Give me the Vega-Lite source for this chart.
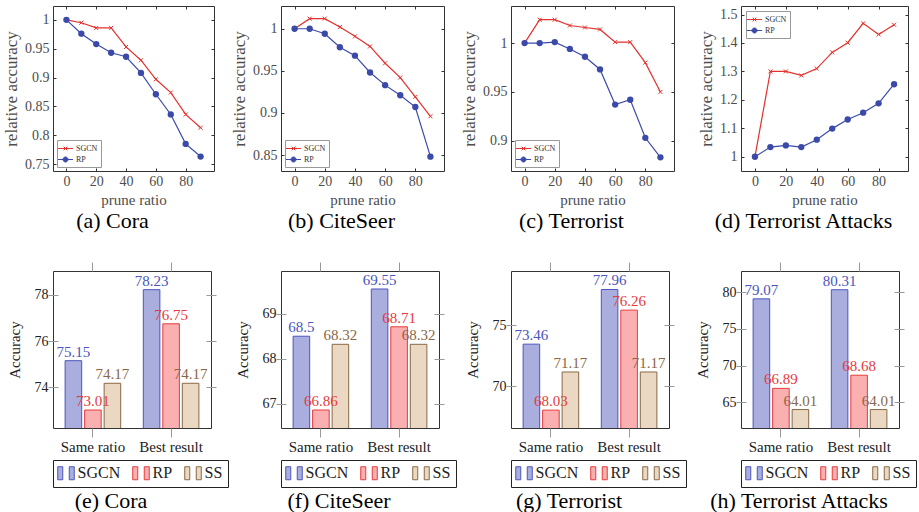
{
"$schema": "https://vega.github.io/schema/vega-lite/v6.json",
"padding": {"left": 2, "top": 5, "right": 2, "bottom": 0},
"background": "white",
"datasets": {
"cora": [
{"series":"SGCN","ratio":0,"acc":1.0},{"series":"SGCN","ratio":10,"acc":0.995},{"series":"SGCN","ratio":20,"acc":0.986},{"series":"SGCN","ratio":30,"acc":0.986},{"series":"SGCN","ratio":40,"acc":0.953},{"series":"SGCN","ratio":50,"acc":0.930},{"series":"SGCN","ratio":60,"acc":0.897},{"series":"SGCN","ratio":70,"acc":0.874},{"series":"SGCN","ratio":80,"acc":0.836},{"series":"SGCN","ratio":90,"acc":0.813},
{"series":"RP","ratio":0,"acc":1.0},{"series":"RP","ratio":10,"acc":0.976},{"series":"RP","ratio":20,"acc":0.958},{"series":"RP","ratio":30,"acc":0.943},{"series":"RP","ratio":40,"acc":0.936},{"series":"RP","ratio":50,"acc":0.908},{"series":"RP","ratio":60,"acc":0.871},{"series":"RP","ratio":70,"acc":0.836},{"series":"RP","ratio":80,"acc":0.785},{"series":"RP","ratio":90,"acc":0.763}
],
"citeseer": [
{"series":"SGCN","ratio":0,"acc":1.0},{"series":"SGCN","ratio":10,"acc":1.012},{"series":"SGCN","ratio":20,"acc":1.012},{"series":"SGCN","ratio":30,"acc":1.002},{"series":"SGCN","ratio":40,"acc":0.991},{"series":"SGCN","ratio":50,"acc":0.979},{"series":"SGCN","ratio":60,"acc":0.959},{"series":"SGCN","ratio":70,"acc":0.942},{"series":"SGCN","ratio":80,"acc":0.919},{"series":"SGCN","ratio":90,"acc":0.896},
{"series":"RP","ratio":0,"acc":1.0},{"series":"RP","ratio":10,"acc":1.0},{"series":"RP","ratio":20,"acc":0.994},{"series":"RP","ratio":30,"acc":0.978},{"series":"RP","ratio":40,"acc":0.968},{"series":"RP","ratio":50,"acc":0.948},{"series":"RP","ratio":60,"acc":0.933},{"series":"RP","ratio":70,"acc":0.921},{"series":"RP","ratio":80,"acc":0.907},{"series":"RP","ratio":90,"acc":0.848}
],
"terrorist": [
{"series":"SGCN","ratio":0,"acc":1.0},{"series":"SGCN","ratio":10,"acc":1.024},{"series":"SGCN","ratio":20,"acc":1.024},{"series":"SGCN","ratio":30,"acc":1.018},{"series":"SGCN","ratio":40,"acc":1.016},{"series":"SGCN","ratio":50,"acc":1.014},{"series":"SGCN","ratio":60,"acc":1.001},{"series":"SGCN","ratio":70,"acc":1.001},{"series":"SGCN","ratio":80,"acc":0.980},{"series":"SGCN","ratio":90,"acc":0.950},
{"series":"RP","ratio":0,"acc":1.0},{"series":"RP","ratio":10,"acc":1.0},{"series":"RP","ratio":20,"acc":1.001},{"series":"RP","ratio":30,"acc":0.994},{"series":"RP","ratio":40,"acc":0.986},{"series":"RP","ratio":50,"acc":0.973},{"series":"RP","ratio":60,"acc":0.937},{"series":"RP","ratio":70,"acc":0.942},{"series":"RP","ratio":80,"acc":0.903},{"series":"RP","ratio":90,"acc":0.883}
],
"ta": [
{"series":"SGCN","ratio":0,"acc":1.0},{"series":"SGCN","ratio":10,"acc":1.30},{"series":"SGCN","ratio":20,"acc":1.30},{"series":"SGCN","ratio":30,"acc":1.286},{"series":"SGCN","ratio":40,"acc":1.31},{"series":"SGCN","ratio":50,"acc":1.367},{"series":"SGCN","ratio":60,"acc":1.401},{"series":"SGCN","ratio":70,"acc":1.469},{"series":"SGCN","ratio":80,"acc":1.43},{"series":"SGCN","ratio":90,"acc":1.464},
{"series":"RP","ratio":0,"acc":1.0},{"series":"RP","ratio":10,"acc":1.034},{"series":"RP","ratio":20,"acc":1.04},{"series":"RP","ratio":30,"acc":1.034},{"series":"RP","ratio":40,"acc":1.06},{"series":"RP","ratio":50,"acc":1.099},{"series":"RP","ratio":60,"acc":1.131},{"series":"RP","ratio":70,"acc":1.155},{"series":"RP","ratio":80,"acc":1.188},{"series":"RP","ratio":90,"acc":1.255}
],
"bcora": [
{"cat":"Same ratio","series":"SGCN","acc":75.15},{"cat":"Same ratio","series":"RP","acc":73.01},{"cat":"Same ratio","series":"SS","acc":74.17},
{"cat":"Best result","series":"SGCN","acc":78.23},{"cat":"Best result","series":"RP","acc":76.75},{"cat":"Best result","series":"SS","acc":74.17}
],
"bciteseer": [
{"cat":"Same ratio","series":"SGCN","acc":68.5},{"cat":"Same ratio","series":"RP","acc":66.86},{"cat":"Same ratio","series":"SS","acc":68.32},
{"cat":"Best result","series":"SGCN","acc":69.55},{"cat":"Best result","series":"RP","acc":68.71},{"cat":"Best result","series":"SS","acc":68.32}
],
"bterrorist": [
{"cat":"Same ratio","series":"SGCN","acc":73.46},{"cat":"Same ratio","series":"RP","acc":68.03},{"cat":"Same ratio","series":"SS","acc":71.17},
{"cat":"Best result","series":"SGCN","acc":77.96},{"cat":"Best result","series":"RP","acc":76.26},{"cat":"Best result","series":"SS","acc":71.17}
],
"bta": [
{"cat":"Same ratio","series":"SGCN","acc":79.07},{"cat":"Same ratio","series":"RP","acc":66.89},{"cat":"Same ratio","series":"SS","acc":64.01},
{"cat":"Best result","series":"SGCN","acc":80.31},{"cat":"Best result","series":"RP","acc":68.68},{"cat":"Best result","series":"SS","acc":64.01}
]
},
"columns": 4,
"align": "each",
"bounds": "flush",
"spacing": {"row": 100, "column": 67},
"resolve": {
"scale": {"x": "independent", "y": "independent", "xOffset": "independent", "color": "independent", "fill": "independent", "stroke": "independent"},
"axis": {"x": "independent", "y": "independent"},
"legend": {"color": "independent", "fill": "independent", "stroke": "independent"}
},
"concat": [
{
"width": 161, "height": 165,
"title": {"text": "(a) Cora", "offset": 4, "dx": -21},
"data": {"name": "cora"},
"layer": [
{"mark": {"type": "line", "strokeWidth": 1.2},
"encoding": {
"x": {"field": "ratio", "type": "quantitative", "scale": {"domain": [-9, 99], "nice": false, "zero": false}, "axis": {"orient": "bottom", "values": [0,20,40,60,80], "title": "prune ratio", "offset": -3, "tickSize": 3, "tickColor": "#333", "labelFontSize": 14, "labelColor": "#4d4d4d", "labelPadding": 3, "titleFontSize": 15, "titleColor": "#4d4d4d", "titlePadding": 4}},
"y": {"field": "acc", "type": "quantitative", "scale": {"domain": [0.738, 1.024], "nice": false, "zero": false}, "axis": {"orient": "left", "values": [0.75,0.8,0.85,0.9,0.95,1], "format": "~g", "title": "relative accuracy", "offset": -3, "tickSize": 3, "tickColor": "#333", "labelFontSize": 14, "labelColor": "#4d4d4d", "labelPadding": 4, "titleFontSize": 17, "titleColor": "#4d4d4d", "titlePadding": 4}},
"color": {"field": "series", "type": "nominal", "scale": {"domain": ["SGCN","RP"], "range": ["#e3312d","#3b4aa9"]},
"legend": {"title": null, "orient": "bottom-left", "offset": 4, "padding": 3, "strokeColor": "#999", "fillColor": "white", "labelFont": "Liberation Serif", "labelFontSize": 8, "labelColor": "#333", "symbolSize": 100, "symbolStrokeWidth": 1, "rowPadding": 1, "labelOffset": 5,
"encode": {"symbols": {"update": {"shape": {"signal": "datum.value === 'SGCN' ? 'M-1.5,0H1.5M-0.36,-0.36L0.36,0.36M-0.36,0.36L0.36,-0.36' : 'M-1.5,0H1.5M0.5,0A0.5,0.5,0,1,1,-0.5,0A0.5,0.5,0,1,1,0.5,0Z'"}, "fill": {"signal": "datum.value === 'RP' ? '#3b4aa9' : 'transparent'"}}}}}}
}},
{"transform": [{"filter": "datum.series == 'SGCN'"}],
"mark": {"type": "point", "shape": "M-1,-1L1,1M-1,1L1,-1", "size": 16, "strokeWidth": 1, "color": "#e3312d", "opacity": 1},
"encoding": {
"x": {"field": "ratio", "type": "quantitative", "scale": {"domain": [-9, 99], "nice": false, "zero": false}, "axis": {"orient": "top", "values": [0,20,40,60,80], "labels": false, "title": null, "offset": -3, "tickSize": 3, "tickColor": "#333"}},
"y": {"field": "acc", "type": "quantitative", "scale": {"domain": [0.738, 1.024], "nice": false, "zero": false}, "axis": {"orient": "right", "values": [0.75,0.8,0.85,0.9,0.95,1], "labels": false, "title": null, "offset": -3, "tickSize": 3, "tickColor": "#333"}}
}},
{"transform": [{"filter": "datum.series == 'RP'"}],
"mark": {"type": "circle", "size": 40, "color": "#3b4aa9", "opacity": 1},
"encoding": {
"x": {"field": "ratio", "type": "quantitative", "scale": {"domain": [-9, 99], "nice": false, "zero": false}, "axis": null},
"y": {"field": "acc", "type": "quantitative", "scale": {"domain": [0.738, 1.024], "nice": false, "zero": false}, "axis": null}
}}
]
},
{
"width": 163, "height": 165,
"title": {"text": "(b) CiteSeer", "offset": 4, "dx": -21},
"data": {"name": "citeseer"},
"layer": [
{"mark": {"type": "line", "strokeWidth": 1.2},
"encoding": {
"x": {"field": "ratio", "type": "quantitative", "scale": {"domain": [-9, 99], "nice": false, "zero": false}, "axis": {"orient": "bottom", "values": [0,20,40,60,80], "title": "prune ratio", "offset": -3, "tickSize": 3, "tickColor": "#333", "labelFontSize": 14, "labelColor": "#4d4d4d", "labelPadding": 3, "titleFontSize": 15, "titleColor": "#4d4d4d", "titlePadding": 4}},
"y": {"field": "acc", "type": "quantitative", "scale": {"domain": [0.831, 1.027], "nice": false, "zero": false}, "axis": {"orient": "left", "values": [0.85,0.9,0.95,1], "format": "~g", "title": "relative accuracy", "offset": -3, "tickSize": 3, "tickColor": "#333", "labelFontSize": 14, "labelColor": "#4d4d4d", "labelPadding": 4, "titleFontSize": 17, "titleColor": "#4d4d4d", "titlePadding": 4}},
"color": {"field": "series", "type": "nominal", "scale": {"domain": ["SGCN","RP"], "range": ["#e3312d","#3b4aa9"]},
"legend": {"title": null, "orient": "bottom-left", "offset": 4, "padding": 3, "strokeColor": "#999", "fillColor": "white", "labelFont": "Liberation Serif", "labelFontSize": 8, "labelColor": "#333", "symbolSize": 100, "symbolStrokeWidth": 1, "rowPadding": 1, "labelOffset": 5,
"encode": {"symbols": {"update": {"shape": {"signal": "datum.value === 'SGCN' ? 'M-1.5,0H1.5M-0.36,-0.36L0.36,0.36M-0.36,0.36L0.36,-0.36' : 'M-1.5,0H1.5M0.5,0A0.5,0.5,0,1,1,-0.5,0A0.5,0.5,0,1,1,0.5,0Z'"}, "fill": {"signal": "datum.value === 'RP' ? '#3b4aa9' : 'transparent'"}}}}}}
}},
{"transform": [{"filter": "datum.series == 'SGCN'"}],
"mark": {"type": "point", "shape": "M-1,-1L1,1M-1,1L1,-1", "size": 16, "strokeWidth": 1, "color": "#e3312d", "opacity": 1},
"encoding": {
"x": {"field": "ratio", "type": "quantitative", "scale": {"domain": [-9, 99], "nice": false, "zero": false}, "axis": {"orient": "top", "values": [0,20,40,60,80], "labels": false, "title": null, "offset": -3, "tickSize": 3, "tickColor": "#333"}},
"y": {"field": "acc", "type": "quantitative", "scale": {"domain": [0.831, 1.027], "nice": false, "zero": false}, "axis": {"orient": "right", "values": [0.85,0.9,0.95,1], "labels": false, "title": null, "offset": -3, "tickSize": 3, "tickColor": "#333"}}
}},
{"transform": [{"filter": "datum.series == 'RP'"}],
"mark": {"type": "circle", "size": 40, "color": "#3b4aa9", "opacity": 1},
"encoding": {
"x": {"field": "ratio", "type": "quantitative", "scale": {"domain": [-9, 99], "nice": false, "zero": false}, "axis": null},
"y": {"field": "acc", "type": "quantitative", "scale": {"domain": [0.831, 1.027], "nice": false, "zero": false}, "axis": null}
}}
]
},
{
"width": 163, "height": 165,
"title": {"text": "(c) Terrorist", "offset": 4, "dx": -21},
"data": {"name": "terrorist"},
"layer": [
{"mark": {"type": "line", "strokeWidth": 1.2},
"encoding": {
"x": {"field": "ratio", "type": "quantitative", "scale": {"domain": [-9, 99], "nice": false, "zero": false}, "axis": {"orient": "bottom", "values": [0,20,40,60,80], "title": "prune ratio", "offset": -3, "tickSize": 3, "tickColor": "#333", "labelFontSize": 14, "labelColor": "#4d4d4d", "labelPadding": 3, "titleFontSize": 15, "titleColor": "#4d4d4d", "titlePadding": 4}},
"y": {"field": "acc", "type": "quantitative", "scale": {"domain": [0.869, 1.038], "nice": false, "zero": false}, "axis": {"orient": "left", "values": [0.9,0.95,1], "format": "~g", "title": "relative accuracy", "offset": -3, "tickSize": 3, "tickColor": "#333", "labelFontSize": 14, "labelColor": "#4d4d4d", "labelPadding": 4, "titleFontSize": 17, "titleColor": "#4d4d4d", "titlePadding": 4}},
"color": {"field": "series", "type": "nominal", "scale": {"domain": ["SGCN","RP"], "range": ["#e3312d","#3b4aa9"]},
"legend": {"title": null, "orient": "bottom-left", "offset": 4, "padding": 3, "strokeColor": "#999", "fillColor": "white", "labelFont": "Liberation Serif", "labelFontSize": 8, "labelColor": "#333", "symbolSize": 100, "symbolStrokeWidth": 1, "rowPadding": 1, "labelOffset": 5,
"encode": {"symbols": {"update": {"shape": {"signal": "datum.value === 'SGCN' ? 'M-1.5,0H1.5M-0.36,-0.36L0.36,0.36M-0.36,0.36L0.36,-0.36' : 'M-1.5,0H1.5M0.5,0A0.5,0.5,0,1,1,-0.5,0A0.5,0.5,0,1,1,0.5,0Z'"}, "fill": {"signal": "datum.value === 'RP' ? '#3b4aa9' : 'transparent'"}}}}}}
}},
{"transform": [{"filter": "datum.series == 'SGCN'"}],
"mark": {"type": "point", "shape": "M-1,-1L1,1M-1,1L1,-1", "size": 16, "strokeWidth": 1, "color": "#e3312d", "opacity": 1},
"encoding": {
"x": {"field": "ratio", "type": "quantitative", "scale": {"domain": [-9, 99], "nice": false, "zero": false}, "axis": {"orient": "top", "values": [0,20,40,60,80], "labels": false, "title": null, "offset": -3, "tickSize": 3, "tickColor": "#333"}},
"y": {"field": "acc", "type": "quantitative", "scale": {"domain": [0.869, 1.038], "nice": false, "zero": false}, "axis": {"orient": "right", "values": [0.9,0.95,1], "labels": false, "title": null, "offset": -3, "tickSize": 3, "tickColor": "#333"}}
}},
{"transform": [{"filter": "datum.series == 'RP'"}],
"mark": {"type": "circle", "size": 40, "color": "#3b4aa9", "opacity": 1},
"encoding": {
"x": {"field": "ratio", "type": "quantitative", "scale": {"domain": [-9, 99], "nice": false, "zero": false}, "axis": null},
"y": {"field": "acc", "type": "quantitative", "scale": {"domain": [0.869, 1.038], "nice": false, "zero": false}, "axis": null}
}}
]
},
{
"width": 167, "height": 165,
"title": {"text": "(d) Terrorist Attacks", "offset": 4, "dx": -21},
"data": {"name": "ta"},
"layer": [
{"mark": {"type": "line", "strokeWidth": 1.2},
"encoding": {
"x": {"field": "ratio", "type": "quantitative", "scale": {"domain": [-9, 99], "nice": false, "zero": false}, "axis": {"orient": "bottom", "values": [0,20,40,60,80], "title": "prune ratio", "offset": -3, "tickSize": 3, "tickColor": "#333", "labelFontSize": 14, "labelColor": "#4d4d4d", "labelPadding": 3, "titleFontSize": 15, "titleColor": "#4d4d4d", "titlePadding": 4}},
"y": {"field": "acc", "type": "quantitative", "scale": {"domain": [0.95, 1.53], "nice": false, "zero": false}, "axis": {"orient": "left", "values": [1,1.1,1.2,1.3,1.4,1.5], "format": "~g", "title": "relative accuracy", "offset": -3, "tickSize": 3, "tickColor": "#333", "labelFontSize": 14, "labelColor": "#4d4d4d", "labelPadding": 4, "titleFontSize": 17, "titleColor": "#4d4d4d", "titlePadding": 4}},
"color": {"field": "series", "type": "nominal", "scale": {"domain": ["SGCN","RP"], "range": ["#e3312d","#3b4aa9"]},
"legend": {"title": null, "orient": "top-left", "offset": 5, "padding": 3, "strokeColor": "#999", "fillColor": "white", "labelFont": "Liberation Serif", "labelFontSize": 8, "labelColor": "#333", "symbolSize": 100, "symbolStrokeWidth": 1, "rowPadding": 1, "labelOffset": 5,
"encode": {"symbols": {"update": {"shape": {"signal": "datum.value === 'SGCN' ? 'M-1.5,0H1.5M-0.36,-0.36L0.36,0.36M-0.36,0.36L0.36,-0.36' : 'M-1.5,0H1.5M0.5,0A0.5,0.5,0,1,1,-0.5,0A0.5,0.5,0,1,1,0.5,0Z'"}, "fill": {"signal": "datum.value === 'RP' ? '#3b4aa9' : 'transparent'"}}}}}}
}},
{"transform": [{"filter": "datum.series == 'SGCN'"}],
"mark": {"type": "point", "shape": "M-1,-1L1,1M-1,1L1,-1", "size": 16, "strokeWidth": 1, "color": "#e3312d", "opacity": 1},
"encoding": {
"x": {"field": "ratio", "type": "quantitative", "scale": {"domain": [-9, 99], "nice": false, "zero": false}, "axis": {"orient": "top", "values": [0,20,40,60,80], "labels": false, "title": null, "offset": -3, "tickSize": 3, "tickColor": "#333"}},
"y": {"field": "acc", "type": "quantitative", "scale": {"domain": [0.95, 1.53], "nice": false, "zero": false}, "axis": {"orient": "right", "values": [1,1.1,1.2,1.3,1.4,1.5], "labels": false, "title": null, "offset": -3, "tickSize": 3, "tickColor": "#333"}}
}},
{"transform": [{"filter": "datum.series == 'RP'"}],
"mark": {"type": "circle", "size": 40, "color": "#3b4aa9", "opacity": 1},
"encoding": {
"x": {"field": "ratio", "type": "quantitative", "scale": {"domain": [-9, 99], "nice": false, "zero": false}, "axis": null},
"y": {"field": "acc", "type": "quantitative", "scale": {"domain": [0.95, 1.53], "nice": false, "zero": false}, "axis": null}
}}
]
},
{
"width": 158, "height": 157,
"title": {"text": "(e) Cora", "offset": 3, "dx": -21},
"data": {"name": "bcora"},
"layer": [
{"mark": {"type": "bar", "clip": true, "strokeWidth": 1},
"encoding": {
"x": {"field": "cat", "type": "nominal", "sort": ["Same ratio","Best result"], "scale": {"paddingInner": 0.289, "paddingOuter": 0.155}, "axis": {"orient": "bottom", "title": null, "labelAngle": 0, "tickSize": 9, "tickColor": "#999", "labelFontSize": 15, "labelColor": "#222", "labelPadding": 2}},
"xOffset": {"field": "series", "type": "nominal", "sort": ["SGCN","RP","SS"], "scale": {"paddingInner": 0.15, "paddingOuter": 0}},
"y": {"field": "acc", "type": "quantitative", "scale": {"domain": [72.23, 79.04], "nice": false, "zero": false}, "axis": {"orient": "left", "values": [74,76,78], "title": "Accuracy", "offset": -5, "tickSize": 10, "tickColor": "#999", "labelPadding": 0, "labelFontSize": 14, "labelColor": "#222", "titleFontSize": 15, "titleColor": "#222", "titlePadding": 12}},
"fill": {"field": "series", "type": "nominal", "scale": {"domain": ["SGCN","RP","SS"], "range": ["#aaaedf","#fab0b0","#ead8c2"]},
"legend": {"title": null, "orient": "bottom", "direction": "horizontal", "offset": 6, "padding": 5, "strokeColor": "#222", "fillColor": "white", "symbolType": "M-1.27,-1H-0.5V1H-1.27ZM0.5,-1H1.27V1H0.5Z", "symbolSize": 169, "symbolStrokeWidth": 1, "symbolOpacity": 1, "labelFont": "Liberation Serif", "labelFontSize": 16, "labelColor": "#222", "labelOffset": 3.5, "columnPadding": 9}},
"stroke": {"field": "series", "type": "nominal", "scale": {"domain": ["SGCN","RP","SS"], "range": ["#4b55bd","#e63b3b","#8a6846"]},
"legend": {"title": null, "orient": "bottom", "direction": "horizontal", "offset": 6, "padding": 5, "strokeColor": "#222", "fillColor": "white", "symbolType": "M-1.27,-1H-0.5V1H-1.27ZM0.5,-1H1.27V1H0.5Z", "symbolSize": 169, "symbolStrokeWidth": 1, "symbolOpacity": 1, "labelFont": "Liberation Serif", "labelFontSize": 16, "labelColor": "#222", "labelOffset": 3.5, "columnPadding": 9}}
}},
{"mark": {"type": "text", "baseline": "alphabetic", "dy": -4, "fontSize": 15},
"encoding": {
"x": {"field": "cat", "type": "nominal", "sort": ["Same ratio","Best result"], "scale": {"paddingInner": 0.289, "paddingOuter": 0.155}, "axis": {"orient": "top", "labels": false, "title": null, "tickSize": 9, "tickColor": "#999"}},
"xOffset": {"field": "series", "type": "nominal", "sort": ["SGCN","RP","SS"], "scale": {"paddingInner": 0.15, "paddingOuter": 0}},
"y": {"field": "acc", "type": "quantitative", "scale": {"domain": [72.23, 79.04], "nice": false, "zero": false}, "axis": {"orient": "right", "values": [74,76,78], "labels": false, "title": null, "offset": -5, "tickSize": 10, "tickColor": "#999"}},
"text": {"field": "acc", "type": "nominal"},
"color": {"field": "series", "type": "nominal", "scale": {"domain": ["SGCN","RP","SS"], "range": ["#4b55bd","#e63b3b","#8a6846"]}, "legend": null}
}}
]
},
{
"width": 158, "height": 157,
"title": {"text": "(f) CiteSeer", "offset": 3, "dx": -21},
"data": {"name": "bciteseer"},
"layer": [
{"mark": {"type": "bar", "clip": true, "strokeWidth": 1},
"encoding": {
"x": {"field": "cat", "type": "nominal", "sort": ["Same ratio","Best result"], "scale": {"paddingInner": 0.289, "paddingOuter": 0.155}, "axis": {"orient": "bottom", "title": null, "labelAngle": 0, "tickSize": 9, "tickColor": "#999", "labelFontSize": 15, "labelColor": "#222", "labelPadding": 2}},
"xOffset": {"field": "series", "type": "nominal", "sort": ["SGCN","RP","SS"], "scale": {"paddingInner": 0.15, "paddingOuter": 0}},
"y": {"field": "acc", "type": "quantitative", "scale": {"domain": [66.46, 69.95], "nice": false, "zero": false}, "axis": {"orient": "left", "values": [67,68,69], "title": "Accuracy", "offset": -5, "tickSize": 10, "tickColor": "#999", "labelPadding": 0, "labelFontSize": 14, "labelColor": "#222", "titleFontSize": 15, "titleColor": "#222", "titlePadding": 12}},
"fill": {"field": "series", "type": "nominal", "scale": {"domain": ["SGCN","RP","SS"], "range": ["#aaaedf","#fab0b0","#ead8c2"]},
"legend": {"title": null, "orient": "bottom", "direction": "horizontal", "offset": 6, "padding": 5, "strokeColor": "#222", "fillColor": "white", "symbolType": "M-1.27,-1H-0.5V1H-1.27ZM0.5,-1H1.27V1H0.5Z", "symbolSize": 169, "symbolStrokeWidth": 1, "symbolOpacity": 1, "labelFont": "Liberation Serif", "labelFontSize": 16, "labelColor": "#222", "labelOffset": 3.5, "columnPadding": 9}},
"stroke": {"field": "series", "type": "nominal", "scale": {"domain": ["SGCN","RP","SS"], "range": ["#4b55bd","#e63b3b","#8a6846"]},
"legend": {"title": null, "orient": "bottom", "direction": "horizontal", "offset": 6, "padding": 5, "strokeColor": "#222", "fillColor": "white", "symbolType": "M-1.27,-1H-0.5V1H-1.27ZM0.5,-1H1.27V1H0.5Z", "symbolSize": 169, "symbolStrokeWidth": 1, "symbolOpacity": 1, "labelFont": "Liberation Serif", "labelFontSize": 16, "labelColor": "#222", "labelOffset": 3.5, "columnPadding": 9}}
}},
{"mark": {"type": "text", "baseline": "alphabetic", "dy": -4, "fontSize": 15},
"encoding": {
"x": {"field": "cat", "type": "nominal", "sort": ["Same ratio","Best result"], "scale": {"paddingInner": 0.289, "paddingOuter": 0.155}, "axis": {"orient": "top", "labels": false, "title": null, "tickSize": 9, "tickColor": "#999"}},
"xOffset": {"field": "series", "type": "nominal", "sort": ["SGCN","RP","SS"], "scale": {"paddingInner": 0.15, "paddingOuter": 0}},
"y": {"field": "acc", "type": "quantitative", "scale": {"domain": [66.46, 69.95], "nice": false, "zero": false}, "axis": {"orient": "right", "values": [67,68,69], "labels": false, "title": null, "offset": -5, "tickSize": 10, "tickColor": "#999"}},
"text": {"field": "acc", "type": "nominal"},
"color": {"field": "series", "type": "nominal", "scale": {"domain": ["SGCN","RP","SS"], "range": ["#4b55bd","#e63b3b","#8a6846"]}, "legend": null}
}}
]
},
{
"width": 158, "height": 157,
"title": {"text": "(g) Terrorist", "offset": 3, "dx": -21},
"data": {"name": "bterrorist"},
"layer": [
{"mark": {"type": "bar", "clip": true, "strokeWidth": 1},
"encoding": {
"x": {"field": "cat", "type": "nominal", "sort": ["Same ratio","Best result"], "scale": {"paddingInner": 0.289, "paddingOuter": 0.155}, "axis": {"orient": "bottom", "title": null, "labelAngle": 0, "tickSize": 9, "tickColor": "#999", "labelFontSize": 15, "labelColor": "#222", "labelPadding": 2}},
"xOffset": {"field": "series", "type": "nominal", "sort": ["SGCN","RP","SS"], "scale": {"paddingInner": 0.15, "paddingOuter": 0}},
"y": {"field": "acc", "type": "quantitative", "scale": {"domain": [66.56, 79.48], "nice": false, "zero": false}, "axis": {"orient": "left", "values": [70,75], "title": "Accuracy", "offset": -5, "tickSize": 10, "tickColor": "#999", "labelPadding": 0, "labelFontSize": 14, "labelColor": "#222", "titleFontSize": 15, "titleColor": "#222", "titlePadding": 12}},
"fill": {"field": "series", "type": "nominal", "scale": {"domain": ["SGCN","RP","SS"], "range": ["#aaaedf","#fab0b0","#ead8c2"]},
"legend": {"title": null, "orient": "bottom", "direction": "horizontal", "offset": 6, "padding": 5, "strokeColor": "#222", "fillColor": "white", "symbolType": "M-1.27,-1H-0.5V1H-1.27ZM0.5,-1H1.27V1H0.5Z", "symbolSize": 169, "symbolStrokeWidth": 1, "symbolOpacity": 1, "labelFont": "Liberation Serif", "labelFontSize": 16, "labelColor": "#222", "labelOffset": 3.5, "columnPadding": 9}},
"stroke": {"field": "series", "type": "nominal", "scale": {"domain": ["SGCN","RP","SS"], "range": ["#4b55bd","#e63b3b","#8a6846"]},
"legend": {"title": null, "orient": "bottom", "direction": "horizontal", "offset": 6, "padding": 5, "strokeColor": "#222", "fillColor": "white", "symbolType": "M-1.27,-1H-0.5V1H-1.27ZM0.5,-1H1.27V1H0.5Z", "symbolSize": 169, "symbolStrokeWidth": 1, "symbolOpacity": 1, "labelFont": "Liberation Serif", "labelFontSize": 16, "labelColor": "#222", "labelOffset": 3.5, "columnPadding": 9}}
}},
{"mark": {"type": "text", "baseline": "alphabetic", "dy": -4, "fontSize": 15},
"encoding": {
"x": {"field": "cat", "type": "nominal", "sort": ["Same ratio","Best result"], "scale": {"paddingInner": 0.289, "paddingOuter": 0.155}, "axis": {"orient": "top", "labels": false, "title": null, "tickSize": 9, "tickColor": "#999"}},
"xOffset": {"field": "series", "type": "nominal", "sort": ["SGCN","RP","SS"], "scale": {"paddingInner": 0.15, "paddingOuter": 0}},
"y": {"field": "acc", "type": "quantitative", "scale": {"domain": [66.56, 79.48], "nice": false, "zero": false}, "axis": {"orient": "right", "values": [70,75], "labels": false, "title": null, "offset": -5, "tickSize": 10, "tickColor": "#999"}},
"text": {"field": "acc", "type": "nominal"},
"color": {"field": "series", "type": "nominal", "scale": {"domain": ["SGCN","RP","SS"], "range": ["#4b55bd","#e63b3b","#8a6846"]}, "legend": null}
}}
]
},
{
"width": 158, "height": 157,
"title": {"text": "(h) Terrorist Attacks", "offset": 3, "dx": -21},
"data": {"name": "bta"},
"layer": [
{"mark": {"type": "bar", "clip": true, "strokeWidth": 1},
"encoding": {
"x": {"field": "cat", "type": "nominal", "sort": ["Same ratio","Best result"], "scale": {"paddingInner": 0.289, "paddingOuter": 0.155}, "axis": {"orient": "bottom", "title": null, "labelAngle": 0, "tickSize": 9, "tickColor": "#999", "labelFontSize": 15, "labelColor": "#222", "labelPadding": 2}},
"xOffset": {"field": "series", "type": "nominal", "sort": ["SGCN","RP","SS"], "scale": {"paddingInner": 0.15, "paddingOuter": 0}},
"y": {"field": "acc", "type": "quantitative", "scale": {"domain": [61.5, 82.86], "nice": false, "zero": false}, "axis": {"orient": "left", "values": [65,70,75,80], "title": "Accuracy", "offset": -5, "tickSize": 10, "tickColor": "#999", "labelPadding": 0, "labelFontSize": 14, "labelColor": "#222", "titleFontSize": 15, "titleColor": "#222", "titlePadding": 12}},
"fill": {"field": "series", "type": "nominal", "scale": {"domain": ["SGCN","RP","SS"], "range": ["#aaaedf","#fab0b0","#ead8c2"]},
"legend": {"title": null, "orient": "bottom", "direction": "horizontal", "offset": 6, "padding": 5, "strokeColor": "#222", "fillColor": "white", "symbolType": "M-1.27,-1H-0.5V1H-1.27ZM0.5,-1H1.27V1H0.5Z", "symbolSize": 169, "symbolStrokeWidth": 1, "symbolOpacity": 1, "labelFont": "Liberation Serif", "labelFontSize": 16, "labelColor": "#222", "labelOffset": 3.5, "columnPadding": 9}},
"stroke": {"field": "series", "type": "nominal", "scale": {"domain": ["SGCN","RP","SS"], "range": ["#4b55bd","#e63b3b","#8a6846"]},
"legend": {"title": null, "orient": "bottom", "direction": "horizontal", "offset": 6, "padding": 5, "strokeColor": "#222", "fillColor": "white", "symbolType": "M-1.27,-1H-0.5V1H-1.27ZM0.5,-1H1.27V1H0.5Z", "symbolSize": 169, "symbolStrokeWidth": 1, "symbolOpacity": 1, "labelFont": "Liberation Serif", "labelFontSize": 16, "labelColor": "#222", "labelOffset": 3.5, "columnPadding": 9}}
}},
{"mark": {"type": "text", "baseline": "alphabetic", "dy": -4, "fontSize": 15},
"encoding": {
"x": {"field": "cat", "type": "nominal", "sort": ["Same ratio","Best result"], "scale": {"paddingInner": 0.289, "paddingOuter": 0.155}, "axis": {"orient": "top", "labels": false, "title": null, "tickSize": 9, "tickColor": "#999"}},
"xOffset": {"field": "series", "type": "nominal", "sort": ["SGCN","RP","SS"], "scale": {"paddingInner": 0.15, "paddingOuter": 0}},
"y": {"field": "acc", "type": "quantitative", "scale": {"domain": [61.5, 82.86], "nice": false, "zero": false}, "axis": {"orient": "right", "values": [65,70,75,80], "labels": false, "title": null, "offset": -5, "tickSize": 10, "tickColor": "#999"}},
"text": {"field": "acc", "type": "nominal"},
"color": {"field": "series", "type": "nominal", "scale": {"domain": ["SGCN","RP","SS"], "range": ["#4b55bd","#e63b3b","#8a6846"]}, "legend": null}
}}
]
}
],
"config": {
"font": "Liberation Serif",
"view": {"stroke": "#333", "strokeWidth": 1},
"axis": {"domain": false, "grid": false, "labelFont": "Liberation Serif", "titleFont": "Liberation Serif", "titleFontWeight": "normal"},
"legend": {"labelFont": "Liberation Serif"},
"title": {"font": "Liberation Serif", "fontWeight": "normal", "fontSize": 22, "orient": "bottom", "color": "black"},
"text": {"font": "Liberation Serif"}
}
}
